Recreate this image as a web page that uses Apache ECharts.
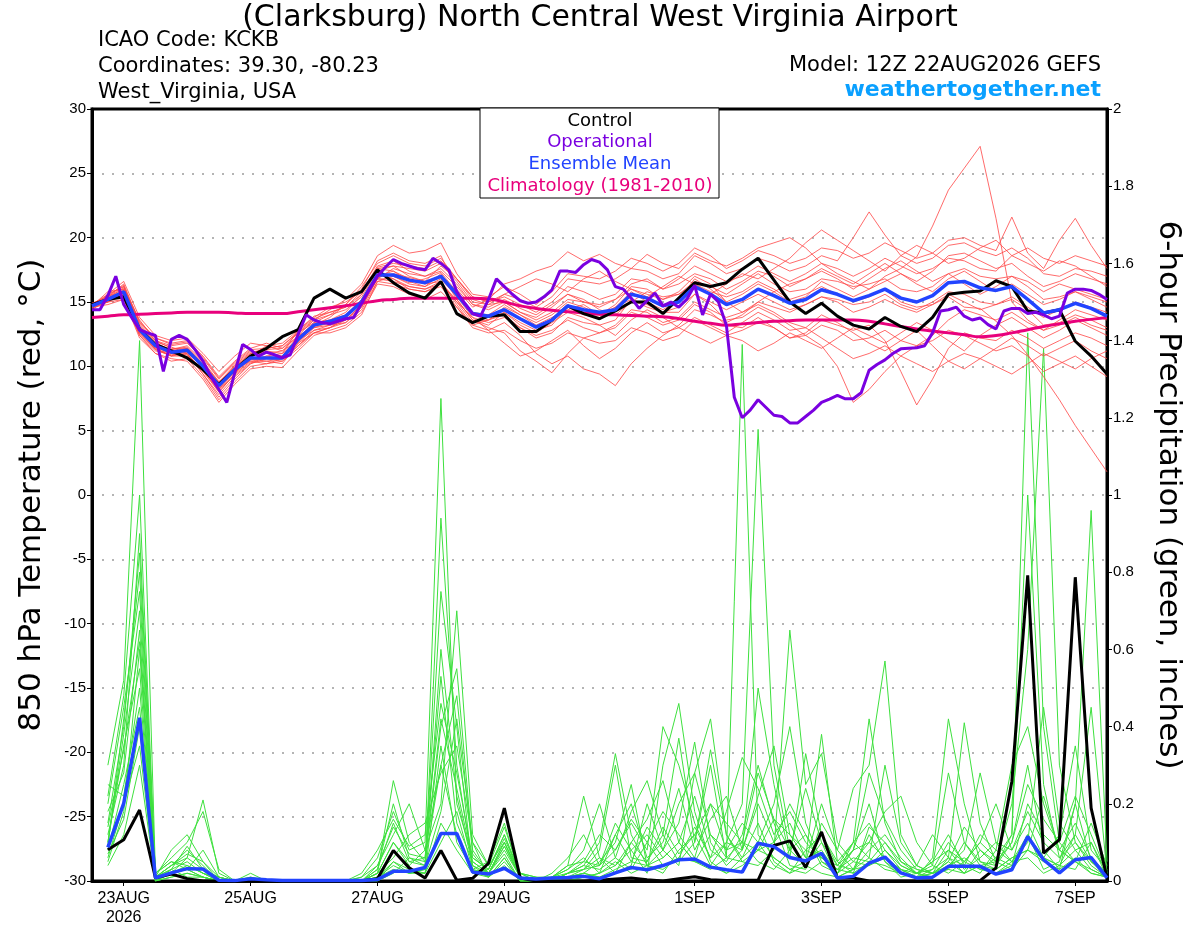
<!DOCTYPE html>
<html>
<head>
<meta charset="utf-8">
<script src="https://cdn.jsdelivr.net/npm/echarts@6/dist/echarts.min.js"></script>
<style>
html,body{margin:0;padding:0;background:#fff;}
#chart{width:1200px;height:927px;}
</style>
</head>
<body>
<div id="chart"></div>
<script>
// ---- axis labels (forecast hour from 12Z 22AUG2026) ----
const xLabelHours = [12, 60, 108, 156, 228, 276, 324, 372];
const xLabelTexts = ['23AUG\n2026', '25AUG', '27AUG', '29AUG', '1SEP', '3SEP', '5SEP', '7SEP'];

// ---- 850 hPa temperature (6-hourly, h0..h384) ----
const climatology = [
  13.8,13.9,14.0,14.05,14.1,14.15,14.2,14.2,14.2,14.15,
  14.1,14.1,14.1,14.25,14.4,14.55,14.7,14.9,15.1,15.2,
  15.3,15.3,15.3,15.3,15.3,15.25,15.0,14.7,14.5,14.35,
  14.25,14.15,14.05,14.0,13.95,13.9,13.85,13.7,13.5,13.35,
  13.2,13.3,13.4,13.5,13.55,13.6,13.6,13.6,13.6,13.5,
  13.3,13.1,12.9,12.75,12.6,12.45,12.3,12.4,12.6,12.85,
  13.1,13.3,13.5,13.65,13.8];
const controlTemp = [
  14.8,15.2,15.4,12.9,11.7,11.2,10.65,9.75,8.6,9.75,
  10.8,11.4,12.3,12.85,15.3,16.0,15.3,15.8,17.5,16.5,
  15.7,15.3,16.6,14.1,13.4,13.9,14.0,12.7,12.7,13.6,
  14.7,14.1,13.7,14.3,15.0,15.0,14.1,15.3,16.5,16.2,
  16.5,17.55,18.4,16.7,15.0,14.1,14.9,13.9,13.2,12.9,
  13.8,13.1,12.7,13.8,15.6,15.75,15.85,16.65,16.2,14.3,
  14.15,14.4,11.95,10.8,9.4];
const meanTemp = [
  14.7,15.2,15.8,12.85,11.6,11.1,11.25,10.0,8.5,9.75,
  10.65,10.65,10.65,12.1,13.2,13.5,13.9,15.0,17.1,17.1,
  16.7,16.5,17.0,15.6,14.1,13.9,14.4,13.7,13.05,13.6,
  14.7,14.4,14.2,14.4,15.6,15.3,14.7,15.0,16.2,15.6,
  14.8,15.2,16.0,15.5,14.9,15.2,15.95,15.6,15.1,15.5,
  16.0,15.3,15.0,15.5,16.5,16.6,16.1,15.9,16.2,15.2,
  14.15,14.4,14.9,14.5,13.9];
// operational run, 3-hourly h0..h384
const operationalTemp = [
  14.4,14.4,15.5,17.0,14.8,13.8,12.85,12.6,12.4,9.6,
  12.1,12.4,12.1,11.3,10.4,9.2,8.2,7.2,9.5,11.7,
  11.3,10.8,11.1,10.9,10.65,10.9,12.5,14.0,13.6,13.4,
  13.3,13.5,13.7,13.8,14.9,16.0,17.0,17.7,18.3,18.0,
  17.8,17.6,17.5,18.4,18.0,17.5,15.8,14.9,14.1,13.9,
  15.2,16.8,16.2,15.6,15.1,14.9,15.0,15.4,15.95,17.4,
  17.4,17.3,17.9,18.3,18.1,17.5,16.2,16.0,15.3,14.5,
  15.1,15.7,14.7,15.0,14.6,15.2,16.3,14.0,15.6,15.0,
  13.2,7.6,6.0,6.6,7.4,6.8,6.2,6.1,5.6,5.6,
  6.1,6.6,7.2,7.46,7.74,7.48,7.48,7.95,9.7,10.14,
  10.5,11.0,11.36,11.4,11.44,11.6,12.6,14.3,14.4,14.6,
  13.9,13.6,13.76,13.24,12.9,14.3,14.5,14.5,14.1,14.2,
  14.0,13.7,13.9,15.7,16.0,16.0,15.9,15.6,15.2];
// ensemble members (temperature)
const member1 = [
  14.5,15.6,16.2,13.2,11.9,11.5,11.0,9.6,8.0,9.4,
  10.9,11.2,11.0,12.8,13.9,14.2,14.6,15.8,17.8,18.2,
  17.4,17.0,17.6,16.4,14.8,14.6,15.2,14.5,14.0,14.8,
  15.6,15.0,14.6,15.2,16.4,16.8,16.0,16.4,17.2,16.8,
  16.0,16.6,17.4,17.0,16.2,16.8,17.6,17.0,16.4,17.2,
  18.0,17.2,16.6,17.4,18.6,18.8,18.2,17.6,18.0,17.0,
  16.2,16.6,17.2,16.8,16.4];
const member2 = [
  14.9,15.0,15.2,12.4,11.0,10.6,10.4,9.0,7.2,8.6,
  9.8,10.0,9.9,11.2,12.4,12.8,13.2,14.2,16.4,16.2,
  15.6,15.2,15.8,14.6,13.0,12.6,12.8,12.0,11.4,11.8,
  12.6,12.2,11.8,12.0,13.0,12.6,12.0,12.4,13.6,13.0,
  12.4,12.8,13.4,13.0,12.2,12.4,13.2,12.8,12.0,12.2,
  12.8,12.0,11.6,12.0,12.8,12.4,11.8,11.2,11.6,10.8,
  9.6,10.2,10.8,10.0,9.2];
const member3 = [
  14.6,15.4,16.0,13.0,11.8,11.3,11.6,10.4,8.8,10.0,
  11.0,11.4,11.6,12.6,13.4,13.6,14.2,15.6,17.6,17.4,
  16.6,16.2,17.2,15.2,13.6,13.2,14.2,13.4,12.8,13.2,
  14.6,14.0,13.8,14.6,15.8,15.0,14.4,15.2,16.8,16.0,
  15.0,15.6,16.4,15.8,15.0,15.4,16.6,16.0,15.4,16.0,
  17.0,17.6,18.5,20.9,23.7,25.4,27.1,21.5,15.0,13.6,
  12.8,13.2,13.8,13.2,12.8];
const member4 = [
  14.8,15.0,15.6,12.6,11.4,10.8,11.4,10.2,8.8,9.8,
  10.4,10.2,10.4,11.6,12.8,13.0,13.4,14.6,16.8,17.6,
  17.2,17.0,17.4,16.2,14.8,14.4,15.0,14.2,13.6,14.2,
  15.2,15.0,14.8,15.2,16.0,15.6,15.2,15.6,16.4,15.8,
  15.4,15.8,16.6,16.0,15.2,15.6,16.2,15.6,15.0,15.4,
  16.0,15.0,14.6,14.8,15.4,14.6,14.5,13.5,12.4,10.9,
  9.2,7.4,5.4,3.6,1.8];
const member5 = [
  14.4,15.2,15.4,12.4,11.2,10.9,11.0,9.4,7.8,9.2,
  10.2,10.6,10.8,12.4,13.0,13.2,13.6,14.8,17.2,16.8,
  16.2,16.0,16.6,15.0,13.4,13.6,14.0,13.0,12.2,12.6,
  13.8,13.4,13.2,13.6,15.2,14.8,14.2,14.2,15.6,14.8,
  13.6,13.8,14.6,14.0,13.2,12.4,11.6,10.0,7.2,8.2,
  9.6,10.8,11.6,12.4,13.6,14.4,14.0,13.6,14.2,13.4,
  12.8,13.6,14.4,14.0,13.6];
const member6 = [
  14.9,15.4,16.4,13.4,12.2,11.8,12.0,10.8,9.2,10.4,
  11.4,11.8,11.4,12.6,13.6,14.0,14.8,16.2,18.0,18.6,
  18.0,17.8,18.4,16.8,15.2,14.8,15.6,15.2,14.6,15.4,
  16.8,16.6,16.4,16.8,17.6,17.4,16.8,17.2,18.6,18.0,
  17.2,17.6,18.4,18.0,17.4,17.8,18.6,18.2,20.0,22.0,
  20.2,18.6,18.0,18.4,19.4,19.6,19.0,18.6,19.2,18.4,
  17.2,17.0,17.6,17.4,17.0];
const member7 = [
  14.6,14.8,15.2,12.2,11.0,10.4,10.6,9.2,7.4,8.8,
  10.0,10.2,10.6,11.8,12.6,12.6,13.0,14.0,16.6,16.4,
  16.0,15.8,16.2,14.6,13.2,12.8,13.4,12.4,11.0,10.2,
  10.8,9.8,9.4,8.5,10.2,11.4,12.4,13.2,14.4,14.0,
  13.4,14.0,15.0,14.6,14.2,14.8,15.4,15.2,14.8,15.0,
  15.6,14.8,14.4,15.0,15.8,15.6,15.0,14.8,15.2,14.4,
  13.2,13.4,14.0,13.6,13.0];
const member8 = [
  14.7,15.8,16.0,13.6,12.0,11.6,11.8,10.6,9.0,10.2,
  11.2,11.0,10.8,12.2,13.4,14.0,14.4,15.4,17.4,17.8,
  17.6,17.4,18.0,16.6,15.0,14.8,15.0,14.2,13.8,14.6,
  15.6,15.2,14.4,14.0,15.0,15.8,15.4,15.6,16.6,16.2,
  15.6,16.4,17.2,16.4,15.8,16.0,16.8,16.6,16.2,16.4,
  16.8,16.0,15.8,16.2,17.2,17.6,17.0,16.8,17.0,16.2,
  15.2,15.4,15.8,15.4,15.0];
const member9 = [
  14.5,15.0,15.8,12.8,11.4,10.8,10.8,9.8,8.2,9.6,
  10.6,10.4,10.2,11.8,13.0,13.4,13.6,14.6,16.8,16.6,
  16.2,16.0,16.4,15.2,13.6,13.0,12.6,11.2,10.4,9.5,
  11.0,12.2,12.6,13.0,14.2,13.8,13.2,13.6,14.8,14.2,
  13.2,13.0,13.8,13.0,12.2,12.6,13.6,13.2,12.8,13.2,
  12.0,9.6,7.0,9.0,11.4,12.6,12.2,12.0,12.8,12.2,
  11.4,12.0,12.6,12.2,11.6];
const member10 = [
  14.8,15.6,16.6,13.8,12.4,12.0,12.2,11.0,9.6,10.8,
  11.8,11.6,11.2,12.4,13.6,14.4,15.2,16.4,18.6,19.4,
  18.8,19.0,19.6,17.2,15.6,15.4,16.2,15.6,14.8,15.8,
  17.2,17.0,16.8,17.4,18.4,18.0,17.4,18.0,19.2,18.6,
  17.6,18.2,19.0,18.6,18.0,18.4,19.2,19.0,18.4,18.8,
  19.6,19.0,18.4,18.8,19.8,20.0,19.4,19.0,21.6,18.8,
  17.6,19.8,21.5,19.4,17.6];
const member11 = [
  14.6,15.3,16.1,13.3,12.0,11.4,11.4,10.0,8.4,9.9,
  11.0,11.0,11.2,12.0,13.2,13.8,14.8,16.0,18.2,18.8,
  18.2,18.0,18.6,16.0,14.6,15.2,16.4,16.8,17.4,17.8,
  18.9,18.2,18.7,18.0,17.6,18.7,18.0,17.6,18.8,18.2,
  17.8,18.4,19.2,19.6,20.0,19.2,18.0,17.2,16.6,16.0,
  16.6,17.2,16.4,15.8,16.8,17.4,16.6,15.8,16.4,15.6,
  14.8,15.2,15.8,15.2,14.6];
const member12 = [
  14.7,15.1,15.6,12.6,11.3,11.0,10.9,9.4,7.6,9.0,
  10.2,10.8,11.0,12.0,12.8,13.2,13.4,14.4,16.6,17.0,
  16.4,16.2,16.8,15.4,13.8,12.8,11.8,10.8,11.2,12.0,
  12.8,11.6,10.6,11.4,12.6,13.4,12.6,13.0,13.8,13.2,
  12.6,13.4,14.2,13.6,12.8,13.0,14.0,13.4,12.6,11.8,
  11.2,12.0,12.8,11.6,10.4,9.8,10.6,11.4,12.2,11.6,
  10.8,11.4,12.0,11.2,10.6];
const member13 = [
  14.8,15.5,16.3,13.1,11.8,11.2,11.4,10.1,8.6,9.6,
  10.8,11.6,11.8,12.8,13.8,14.6,15.0,15.8,17.6,17.8,
  17.0,16.6,17.8,16.8,15.4,15.0,15.6,16.2,16.8,16.4,
  15.8,16.8,17.4,16.6,16.0,15.4,16.2,17.0,16.4,15.6,
  16.4,17.2,16.8,17.6,18.4,19.6,20.6,19.8,19.0,18.2,
  17.4,18.6,19.4,18.8,18.0,18.4,19.2,19.8,18.6,18.0,
  17.4,18.2,17.8,17.0,16.2];
const member14 = [
  14.6,15.0,15.9,12.7,11.5,11.0,11.1,9.9,8.3,9.5,
  10.5,10.8,10.6,11.6,12.6,13.0,13.8,15.0,17.0,17.4,
  16.8,16.4,16.6,14.8,13.2,13.6,14.2,13.2,12.6,13.4,
  14.2,13.8,13.2,12.4,13.6,14.4,13.8,13.0,12.4,11.8,
  12.4,12.0,11.2,11.8,12.6,12.0,11.4,12.2,13.0,12.4,
  11.8,12.6,13.4,12.8,12.0,11.2,12.4,13.2,13.8,13.0,
  12.2,12.8,13.6,13.0,12.4];
const member15 = [
  14.9,15.3,15.9,12.9,11.6,11.3,11.5,10.3,8.7,10.1,
  11.1,11.3,11.4,12.3,13.3,13.6,14.0,15.2,17.3,17.0,
  16.5,16.8,17.3,15.8,14.2,14.0,14.8,14.0,13.4,14.0,
  15.0,14.6,14.0,14.8,16.2,16.0,15.2,15.8,17.0,16.4,
  15.0,14.2,15.0,15.8,16.4,16.8,17.4,16.8,16.0,16.8,
  17.6,18.2,17.4,16.6,17.2,16.4,15.6,16.2,17.0,16.6,
  15.8,16.4,16.0,15.6,15.2];
const member16 = [
  14.7,15.2,15.7,12.7,11.5,11.0,11.2,9.8,8.0,9.4,
  10.4,10.6,10.4,11.4,12.6,13.0,13.6,14.8,16.8,16.8,
  16.0,15.8,16.4,15.0,13.8,13.4,13.8,13.0,12.4,12.8,
  13.6,13.0,12.6,13.2,14.4,14.2,13.4,13.8,15.0,14.4,
  13.8,14.2,14.8,14.2,13.4,13.0,12.2,11.4,10.6,11.0,
  11.6,10.8,10.2,9.6,10.4,11.0,10.6,10.0,9.4,10.2,
  11.0,10.4,9.8,10.6,11.2];
const member17 = [
  14.6,15.4,16.2,13.5,12.2,11.7,11.9,10.7,9.1,10.3,
  11.3,11.4,11.6,12.7,13.7,14.2,14.6,15.6,17.7,18.0,
  17.8,17.6,18.2,16.8,15.4,15.0,15.4,14.8,14.2,15.0,
  16.2,15.8,15.2,15.6,16.8,16.6,16.0,16.8,17.8,17.2,
  16.6,17.0,17.8,17.2,16.6,17.2,18.0,17.6,17.0,17.6,
  18.4,17.8,17.2,17.6,18.4,18.2,17.6,17.4,18.6,19.2,
  18.4,18.0,18.6,18.2,17.8];
const member18 = [
  14.8,15.1,15.5,12.5,11.3,10.8,11.0,9.6,8.2,9.3,
  10.3,10.4,10.6,11.9,13.1,13.4,14.0,15.2,16.9,17.2,
  16.9,16.6,17.0,15.6,14.0,13.6,14.6,14.0,13.2,13.8,
  14.4,14.8,14.0,14.6,15.2,14.6,14.2,14.6,15.6,15.0,
  14.4,15.0,15.6,15.0,14.4,14.8,15.4,15.0,14.2,14.6,
  15.2,14.6,14.2,14.8,15.6,15.0,14.4,14.8,15.4,14.6,
  13.8,14.4,15.0,14.6,14.2];

// ---- 6-hour precipitation (h6..h384) ----
const controlPrecip = [
  0.081,0.107,0.184,0.008,0.018,0.006,0,0,0,0,
  0,0,0,0,0,0,0,0.006,0.079,0.034,
  0.008,0.079,0.002,0.007,0.046,0.189,0.008,0,0,0,
  0,0.002,0.005,0.008,0.003,0,0.006,0.011,0.003,0.001,
  0.002,0.002,0.092,0.104,0.035,0.127,0.008,0.008,0,0,
  0,0,0,0,0,0.001,0.034,0.258,0.792,0.072,
  0.107,0.787,0.189,0.008];
const meanPrecip = [
  0.087,0.201,0.423,0.008,0.021,0.032,0.031,0.002,0.001,0.006,
  0.003,0.001,0.001,0.001,0.001,0.001,0.001,0.004,0.025,0.025,
  0.035,0.123,0.123,0.023,0.018,0.033,0.008,0.005,0.008,0.009,
  0.012,0.006,0.021,0.035,0.029,0.040,0.055,0.057,0.036,0.029,
  0.023,0.098,0.089,0.061,0.052,0.072,0.008,0.012,0.046,0.062,
  0.021,0.008,0.010,0.038,0.038,0.038,0.018,0.029,0.115,0.055,
  0.021,0.055,0.061,0.008];
const precipMember1 = [
  0.30,0.52,1.40,0.02,0.05,0.03,0.01,0,0,0.01,
  0,0,0,0,0,0,0,0.02,0.10,0.04,
  0.08,0.30,0.12,0.03,0.02,0.10,0.01,0,0.02,0.06,
  0.12,0.04,0.15,0.08,0.02,0.30,0.46,0.18,0.05,0.02,
  0.06,0.15,0.05,0.02,0.04,0.10,0.01,0.03,0.12,0.05,
  0.02,0.01,0.03,0.10,0.05,0.03,0.06,0.12,1.42,0.40,
  0.10,0.05,0.03,0.01];
const precipMember2 = [
  0.12,0.30,0.90,0.01,0.08,0.12,0.05,0.01,0,0,
  0,0,0,0,0,0,0.01,0.06,0.18,0.08,
  0.10,1.25,0.20,0.06,0.03,0.12,0.02,0.01,0,0.02,
  0.04,0.10,0.33,0.12,0.04,0.08,0.15,0.36,0.10,0.04,
  0.08,0.50,0.25,0.06,0.33,0.12,0.04,0.10,0.42,0.15,
  0.05,0.02,0.01,0.04,0.08,0.28,0.10,0.05,0.06,0.02,
  0.04,0.12,0.05,0.02];
const precipMember3 = [
  0.20,0.45,0.75,0.01,0.02,0.06,0.21,0.02,0,0,
  0,0,0,0,0,0,0,0.02,0.26,0.10,
  0.05,0.40,0.55,0.08,0.02,0.08,0.01,0,0.01,0.04,
  0.22,0.06,0.02,0.10,0.05,0.12,0.37,0.10,0.30,0.06,
  1.39,0.12,0.06,0.03,0.05,0.20,0.08,0.03,0.06,0.30,
  0.10,0.04,0.02,0.05,0.02,0.08,0.04,0.10,0.30,0.08,
  0.03,0.20,0.05,0.01];
const precipMember4 = [
  0.05,0.18,0.60,0,0.03,0.01,0.01,0,0,0,
  0,0,0,0,0,0,0,0,0.05,0.02,
  0.03,0.94,0.30,0.04,0.01,0.06,0,0,0,0.01,
  0.02,0.05,0.10,0.25,0.04,0.02,0.08,0.12,0.04,0.10,
  0.20,1.17,0.30,0.08,0.12,0.04,0.02,0.08,0.20,0.05,
  0.01,0.02,0.05,0.12,0.04,0.02,0.08,0.05,0.12,0.03,
  0.05,0.20,0.96,0.05];
const precipMember5 = [
  0.08,0.25,0.45,0.01,0.04,0.08,0.04,0,0,0,
  0,0,0,0,0,0,0,0.03,0.15,0.05,
  0.06,0.53,0.15,0.05,0.02,0.10,0.01,0,0,0.02,
  0.04,0.03,0.06,0.18,0.26,0.12,0.05,0.10,0.34,0.12,
  0.05,0.04,0.08,0.65,0.25,0.33,0.10,0.05,0.04,0.08,
  0.03,0.01,0.06,0.42,0.20,0.05,0.03,0.06,0.08,0.22,
  0.08,0.05,0.02,0.01];
const precipMember6 = [
  0.10,0.35,0.55,0,0.02,0.04,0.02,0,0,0,
  0,0,0,0,0,0,0,0,0.02,0.06,
  0.04,0.18,0.42,0.10,0.01,0.04,0,0,0,0,
  0.01,0.02,0.04,0.08,0.12,0.06,0.10,0.22,0.08,0.05,
  0.12,0.30,0.15,0.04,0.03,0.15,0.08,0.24,0.30,0.57,
  0.12,0.04,0.02,0.03,0.10,0.04,0.02,0.05,0.10,0.45,
  0.15,0.08,0.10,0.02];
const precipMember7 = [
  0.15,0.40,0.85,0.02,0.06,0.10,0.18,0.03,0,0,
  0,0,0,0,0,0,0.01,0.04,0.12,0.20,
  0.08,0.20,0.70,0.12,0.04,0.10,0.02,0,0.01,0.03,
  0.06,0.02,0.12,0.05,0.14,0.08,0.20,0.28,0.12,0.08,
  0.15,0.10,0.04,0.02,0.08,0.12,0.05,0.10,0.15,0.08,
  0.04,0.02,0.01,0.06,0.41,0.15,0.05,0.20,0.60,1.38,
  0.30,0.10,0.05,0.02];
const precipMember8 = [
  0.22,0.48,1.00,0.01,0.03,0.05,0.02,0.01,0,0.02,
  0,0,0,0,0,0,0,0.01,0.08,0.03,
  0.02,0.35,0.10,0.03,0.05,0.15,0.01,0,0.01,0.02,
  0.03,0.08,0.30,0.06,0.05,0.14,0.07,0.12,0.20,0.15,
  0.10,0.08,0.16,0.12,0.06,0.38,0.05,0.02,0.14,0.10,
  0.05,0.03,0.02,0.08,0.05,0.10,0.20,0.08,0.15,0.06,
  0.12,0.35,0.08,0.03];
const precipMember9 = [
  0.06,0.20,0.35,0,0.01,0.02,0.01,0,0,0,
  0,0,0,0,0,0,0,0.01,0.04,0.02,
  0.02,0.15,0.08,0.02,0.01,0.05,0,0,0,0.01,
  0.02,0.01,0.03,0.05,0.04,0.03,0.06,0.05,0.04,0.02,
  0.04,0.08,0.06,0.03,0.02,0.05,0.03,0.02,0.05,0.04,
  0.02,0.01,0.02,0.03,0.02,0.04,0.03,0.06,0.08,0.05,
  0.03,0.06,0.02,0.01];
const precipMember10 = [
  0.18,0.28,0.65,0.01,0.02,0.03,0.08,0.01,0,0,
  0,0,0,0,0,0,0,0.02,0.10,0.05,
  0.04,0.75,0.40,0.02,0.03,0.12,0.01,0,0,0.02,
  0.05,0.04,0.08,0.15,0.08,0.40,0.30,0.15,0.06,0.10,
  0.08,0.22,0.35,0.12,0.08,0.06,0.03,0.08,0.10,0.06,
  0.03,0.02,0.04,0.28,0.10,0.05,0.04,0.12,1.00,0.25,
  0.06,0.12,0.45,0.02];
const precipMember11 = [
  0.10,0.38,0.70,0.01,0.04,0.06,0.03,0,0,0.01,
  0,0,0,0,0,0,0,0.04,0.14,0.07,
  0.06,0.42,0.24,0.05,0.02,0.09,0.01,0,0.01,0.03,
  0.08,0.20,0.06,0.03,0.10,0.18,0.12,0.06,0.20,0.08,
  0.10,0.28,0.16,0.08,0.24,0.10,0.04,0.03,0.08,0.12,
  0.06,0.02,0.05,0.08,0.03,0.06,0.10,0.08,0.18,0.10,
  0.06,0.10,0.04,0.01];
const precipMember12 = [
  0.25,0.22,0.50,0.02,0.05,0.04,0.02,0,0,0,
  0,0,0,0,0,0,0,0.02,0.06,0.12,
  0.15,0.28,0.35,0.10,0.04,0.14,0.02,0,0,0.02,
  0.03,0.04,0.12,0.20,0.06,0.10,0.24,0.08,0.16,0.22,
  0.08,0.20,0.10,0.15,0.06,0.08,0.02,0.05,0.10,0.18,
  0.22,0.10,0.04,0.02,0.05,0.10,0.06,0.04,0.20,0.12,
  0.08,0.05,0.15,0.04];
const precipMember13 = [
  0.04,0.12,0.30,0,0.02,0.03,0.01,0,0,0,
  0,0,0,0,0,0,0,0.01,0.03,0.02,
  0.03,0.60,0.22,0.04,0.02,0.07,0,0,0,0.01,
  0.02,0.01,0.02,0.04,0.20,0.08,0.04,0.28,0.42,0.12,
  0.06,0.10,0.20,0.40,0.15,0.05,0.02,0.10,0.06,0.03,
  0.02,0.04,0.12,0.06,0.02,0.04,0.05,0.03,0.08,0.06,
  0.04,0.08,0.03,0.01];
const precipMember14 = [
  0.14,0.34,0.62,0.01,0.03,0.09,0.03,0.01,0,0,
  0,0,0,0,0,0,0.02,0.08,0.16,0.09,
  0.12,0.46,0.28,0.06,0.03,0.11,0.02,0.01,0.01,0.04,
  0.05,0.12,0.08,0.16,0.10,0.04,0.06,0.14,0.06,0.18,
  0.32,0.24,0.12,0.18,0.10,0.06,0.04,0.08,0.28,0.16,
  0.08,0.03,0.02,0.05,0.14,0.08,0.05,0.10,0.25,0.16,
  0.10,0.22,0.12,0.02];
const precipMember15 = [
  0.09,0.42,0.80,0.01,0.04,0.07,0.05,0,0,0,
  0,0,0,0,0,0,0,0.03,0.20,0.06,
  0.05,0.30,0.48,0.07,0.02,0.09,0.01,0,0,0.01,
  0.03,0.06,0.04,0.10,0.16,0.26,0.10,0.05,0.12,0.06,
  0.05,0.08,0.10,0.20,0.12,0.06,0.03,0.06,0.05,0.10,
  0.04,0.02,0.03,0.06,0.04,0.12,0.08,0.30,0.40,0.20,
  0.08,0.15,0.06,0.02];
const precipMember16 = [
  0.07,0.16,0.40,0,0.01,0.02,0.01,0,0,0,
  0,0,0,0,0,0,0,0.01,0.05,0.03,
  0.02,0.10,0.18,0.03,0.01,0.06,0,0,0,0,
  0.01,0.02,0.05,0.02,0.04,0.06,0.10,0.05,0.03,0.06,
  0.10,0.05,0.03,0.08,0.04,0.02,0.01,0.03,0.04,0.06,
  0.03,0.01,0.02,0.04,0.06,0.03,0.02,0.04,0.12,0.06,
  0.04,0.03,0.10,0.01];

const tempMembers = [member1, member2, member3, member4, member5, member6, member7, member8, member9,
  member10, member11, member12, member13, member14, member15, member16, member17, member18];
const precipMembers = [precipMember1, precipMember2, precipMember3, precipMember4, precipMember5,
  precipMember6, precipMember7, precipMember8, precipMember9, precipMember10, precipMember11,
  precipMember12, precipMember13, precipMember14, precipMember15, precipMember16];

// ---- build chart ----
const FONT = '"DejaVu Sans", "Liberation Sans", Arial, sans-serif';
const TICKFONT = '"Liberation Sans", Arial, Helvetica, sans-serif';
const every6 = arr => arr.map((v, i) => [i * 6, v]);
const every3 = arr => arr.map((v, i) => [i * 3, v]);
const precipPts = arr => arr.map((v, i) => [(i + 1) * 6, v]);

const series = [];
precipMembers.forEach((m, k) => series.push({
  name: 'precip member ' + (k + 1), type: 'line', yAxisIndex: 1, data: precipPts(m),
  symbol: 'none', silent: true, z: 2,
  lineStyle: { color: '#3ee03e', width: 1 }
}));
tempMembers.forEach((m, k) => series.push({
  name: 'temp member ' + (k + 1), type: 'line', yAxisIndex: 0, data: every6(m),
  symbol: 'none', silent: true, z: 2,
  lineStyle: { color: 'rgba(255,70,70,0.8)', width: 1 }
}));
series.push({ name: 'Climatology (1981-2010)', type: 'line', yAxisIndex: 0, data: every6(climatology),
  symbol: 'none', smooth: true, z: 3, lineStyle: { color: '#e8007c', width: 3 } });
series.push({ name: 'Control', type: 'line', yAxisIndex: 0, data: every6(controlTemp),
  symbol: 'none', z: 4, lineStyle: { color: '#000', width: 3 } });
series.push({ name: 'Ensemble Mean', type: 'line', yAxisIndex: 0, data: every6(meanTemp),
  symbol: 'none', z: 5, lineStyle: { color: '#2244ff', width: 3.5 } });
series.push({ name: 'Operational', type: 'line', yAxisIndex: 0, data: every3(operationalTemp),
  symbol: 'none', z: 6, lineStyle: { color: '#7a00e0', width: 3 } });
series.push({ name: 'Control precip', type: 'line', yAxisIndex: 1, data: precipPts(controlPrecip),
  symbol: 'none', z: 4, lineStyle: { color: '#000', width: 3 } });
series.push({ name: 'Ensemble Mean precip', type: 'line', yAxisIndex: 1, data: precipPts(meanPrecip),
  symbol: 'none', z: 5, lineStyle: { color: '#2244ff', width: 3.5 } });

const txt = (x, y, text, size, color, align, weight) => ({
  type: 'text', x: x, y: y, z: 100,
  style: { text: text, fill: color, fontSize: size, fontFamily: FONT, fontWeight: weight || 'normal',
    align: align, verticalAlign: 'middle' }
});

const chart = echarts.init(document.getElementById('chart'), null, { renderer: 'canvas' });
chart.setOption({
  animation: false,
  backgroundColor: '#fff',
  textStyle: { fontFamily: FONT },
  grid: { left: 92, right: 93, top: 109, bottom: 44, show: true, borderColor: '#000', borderWidth: 3, backgroundColor: 'transparent' },
  xAxis: {
    type: 'value', min: 0, max: 384,
    axisLine: { show: true, onZero: false, lineStyle: { color: '#000', width: 3 } },
    axisTick: { show: true, customValues: xLabelHours, length: 5, lineStyle: { color: '#000', width: 1 } },
    axisLabel: {
      customValues: xLabelHours, color: '#000', fontSize: 16, margin: 8, lineHeight: 19, fontFamily: TICKFONT,
      formatter: v => { const i = xLabelHours.indexOf(v); return i >= 0 ? xLabelTexts[i] : ''; }
    },
    splitLine: { show: false }
  },
  yAxis: [
    {
      type: 'value', min: -30, max: 30, interval: 5, position: 'left',
      name: '850 hPa Temperature (red, °C)', nameLocation: 'middle', nameRotate: 90, nameGap: 45,
      nameTextStyle: { fontSize: 31, color: '#000', fontFamily: FONT },
      axisLine: { show: true, lineStyle: { color: '#000', width: 3 } },
      axisTick: { show: true, length: 5, lineStyle: { color: '#000', width: 1 } },
      axisLabel: { color: '#000', fontSize: 15, margin: 6, fontFamily: TICKFONT },
      splitLine: { show: true, showMinLine: false, showMaxLine: false,
        lineStyle: { color: '#b4b4b4', width: 2, type: [2, 8] } }
    },
    {
      type: 'value', min: 0, max: 2, interval: 0.2, position: 'right',
      name: '6-hour Precipitation (green, inches)', nameLocation: 'middle', nameRotate: -90, nameGap: 46,
      nameTextStyle: { fontSize: 31, color: '#000', fontFamily: FONT },
      axisLine: { show: true, lineStyle: { color: '#000', width: 3 } },
      axisTick: { show: true, length: 5, lineStyle: { color: '#000', width: 1 } },
      axisLabel: { color: '#000', fontSize: 15, margin: 6, fontFamily: TICKFONT },
      splitLine: { show: false }
    }
  ],
  graphic: [
    txt(600, 18, '(Clarksburg) North Central West Virginia Airport', 30, '#000', 'center'),
    txt(98, 41, 'ICAO Code: KCKB', 21, '#000', 'left'),
    txt(98, 67, 'Coordinates: 39.30, -80.23', 21, '#000', 'left'),
    txt(98, 93, 'West_Virginia, USA', 21, '#000', 'left'),
    txt(1101, 66, 'Model: 12Z 22AUG2026 GEFS', 21, '#000', 'right'),
    txt(1101, 90, 'weathertogether.net', 22, '#0aa0ff', 'right', 'bold'),
    { type: 'rect', z: 99, shape: { x: 480, y: 108, width: 239, height: 90 },
      style: { fill: '#fff', stroke: '#000', lineWidth: 1 } },
    txt(600, 121, 'Control', 18, '#000', 'center'),
    txt(600, 142, 'Operational', 18, '#7a00e0', 'center'),
    txt(600, 164, 'Ensemble Mean', 18, '#2244ff', 'center'),
    txt(600, 186, 'Climatology (1981-2010)', 18, '#e8007c', 'center')
  ],
  series: series
});
</script>
</body>
</html>
